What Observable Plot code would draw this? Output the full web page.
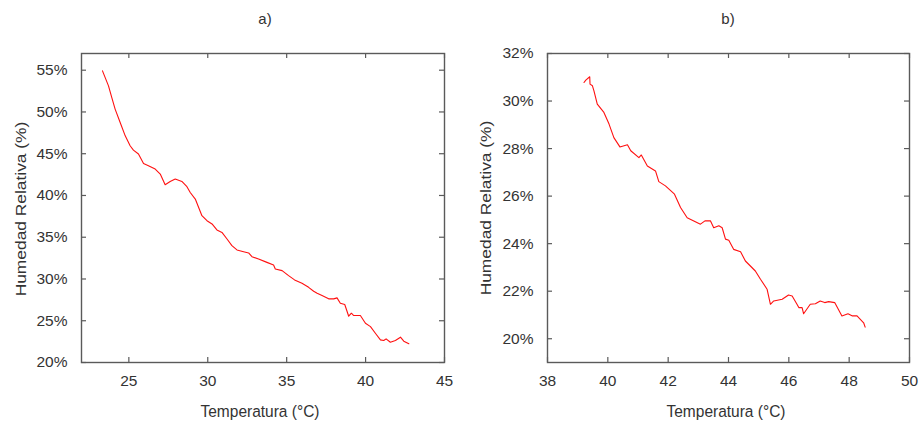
<!DOCTYPE html>
<html>
<head>
<meta charset="utf-8">
<script src="https://cdn.jsdelivr.net/npm/d3@7"></script>
<script src="https://cdn.jsdelivr.net/npm/@observablehq/plot@0.6"></script>
<style>
  html, body { margin: 0; padding: 0; background: #fff; }
  #wrap { position: relative; width: 919px; height: 424px; overflow: hidden; font-family: "Liberation Sans", Arial, sans-serif; color: #333; }
  .panel { position: absolute; top: 0; }
  .lbl { position: absolute; white-space: nowrap; font-size: 15.5px; color: #333; }
  .title { font-size: 15px; }
</style>
</head>
<body>
<div id="wrap">
  <div id="pa" class="panel" style="left:0px"></div>
  <div id="pb" class="panel" style="left:460px"></div>
  <div class="lbl title" style="left:265px;top:18px;transform:translate(-50%,-50%)">a)</div>
  <div class="lbl title" style="left:728px;top:18px;transform:translate(-50%,-50%)">b)</div>
  <div class="lbl" style="left:260px;top:411px;transform:translate(-50%,-50%) scaleY(1.12)">Temperatura (°C)</div>
  <div class="lbl" style="left:726px;top:411px;transform:translate(-50%,-50%) scaleY(1.12)">Temperatura (°C)</div>
  <div class="lbl" style="left:20.5px;top:208.5px;transform:translate(-50%,-50%) rotate(-90deg) scaleX(1.12)">Humedad Relativa (%)</div>
  <div class="lbl" style="left:485.5px;top:208px;transform:translate(-50%,-50%) rotate(-90deg) scaleX(1.12)">Humedad Relativa (%)</div>
</div>
<script>
// Panel a) data
const tempA = [23.33,23.71,23.92,24.13,24.45,24.77,25.08,25.29,25.61,25.93,26.24,26.67,26.99,27.30,27.62,27.94,28.36,28.68,28.89,29.21,29.63,29.95,30.27,30.58,30.90,31.22,31.53,31.85,32.27,32.59,32.80,33.22,33.75,34.17,34.28,34.71,35.12,35.50,35.97,36.39,36.71,36.93,37.24,37.66,37.98,38.19,38.40,38.68,38.93,39.10,39.25,39.67,39.99,40.31,40.62,40.94,41.15,41.30,41.57,41.89,42.21,42.42,42.74];
const humA  = [54.92,53.12,51.72,50.34,48.73,47.14,45.95,45.43,44.96,43.83,43.56,43.16,42.56,41.28,41.68,41.97,41.68,41.05,40.36,39.57,37.58,36.98,36.59,35.87,35.58,34.79,33.99,33.48,33.27,33.12,32.67,32.40,31.99,31.68,31.20,31.00,30.40,29.89,29.48,29.00,28.53,28.29,28.01,27.62,27.62,27.74,27.09,26.94,25.54,25.90,25.62,25.62,24.70,24.30,23.50,22.71,22.63,22.83,22.43,22.63,23.03,22.55,22.24];
// Panel b) data
const tempB = [39.21,39.27,39.40,39.41,39.49,39.54,39.65,39.87,40.04,40.20,40.40,40.65,40.76,41.03,41.11,41.31,41.58,41.69,41.91,42.21,42.41,42.63,43.07,43.22,43.40,43.51,43.68,43.79,43.90,44.01,44.17,44.40,44.56,44.89,45.06,45.28,45.39,45.50,45.78,45.99,46.11,46.27,46.33,46.44,46.49,46.71,46.88,47.04,47.19,47.32,47.52,47.76,47.96,48.11,48.26,48.48,48.53];
const humB  = [30.78,30.88,31.02,30.71,30.64,30.43,29.87,29.52,29.03,28.46,28.07,28.16,27.91,27.62,27.73,27.27,27.06,26.61,26.43,26.08,25.52,25.09,24.82,24.96,24.96,24.67,24.75,24.67,24.19,24.14,23.76,23.66,23.27,22.85,22.50,22.08,21.45,21.59,21.66,21.84,21.80,21.45,21.31,21.31,21.05,21.45,21.47,21.59,21.52,21.56,21.52,20.96,21.05,20.96,20.96,20.67,20.49];

const xTicksA = [25, 30, 35, 40, 45];
const yTicksA = [20, 25, 30, 35, 40, 45, 50, 55];
const xTicksB = [38, 40, 42, 44, 46, 48, 50];
const yTicksB = [20, 22, 24, 26, 28, 30, 32];

const frameColor = "#5a5a5a";
const tickLen = 5;

function panel({width, height, ml, mr, mt, mb, xDomain, yDomain, xTicks, yTicks, xs, ys}) {
  const pw = width - ml - mr, ph = height - mt - mb;
  const data = xs.map((x, i) => ({x, y: ys[i]}));
  return Plot.plot({
    width, height,
    marginLeft: ml, marginRight: mr, marginTop: mt, marginBottom: mb,
    style: {fontFamily: "'Liberation Sans', Arial, sans-serif", fontSize: "15.5px", color: "#333", background: "transparent", overflow: "visible"},
    x: {domain: xDomain},
    y: {domain: yDomain},
    marks: [
      Plot.axisX(xTicks, {anchor: "bottom", tickSize: 0, tickPadding: 12, tickFormat: d => String(d), label: null, fill: "#333"}),
      Plot.axisY(yTicks, {anchor: "left", tickSize: 0, tickPadding: 14, tickFormat: d => d + "%", label: null, fill: "#333"}),
      Plot.tickX(xTicks, {x: d => d, insetTop: ph - tickLen, stroke: frameColor, strokeWidth: 1.2}),
      Plot.tickX(xTicks, {x: d => d, insetBottom: ph - tickLen, stroke: frameColor, strokeWidth: 1.2}),
      Plot.tickY(yTicks, {y: d => d, insetRight: pw - tickLen, stroke: frameColor, strokeWidth: 1.2}),
      Plot.tickY(yTicks, {y: d => d, insetLeft: pw - tickLen, stroke: frameColor, strokeWidth: 1.2}),
      Plot.line(data, {x: "x", y: "y", stroke: "#ff1010", strokeWidth: 1.1}),
      Plot.frame({stroke: frameColor, strokeWidth: 1.4})
    ]
  });
}

document.getElementById("pa").appendChild(panel({
  width: 460, height: 424, ml: 81, mr: 16, mt: 53, mb: 62,
  xDomain: [22, 45], yDomain: [20, 57], xTicks: xTicksA, yTicks: yTicksA, xs: tempA, ys: humA
}));
document.getElementById("pb").appendChild(panel({
  width: 459, height: 424, ml: 87, mr: 10, mt: 53, mb: 62,
  xDomain: [38, 50], yDomain: [19, 32], xTicks: xTicksB, yTicks: yTicksB, xs: tempB, ys: humB
}));
</script>
</body>
</html>
